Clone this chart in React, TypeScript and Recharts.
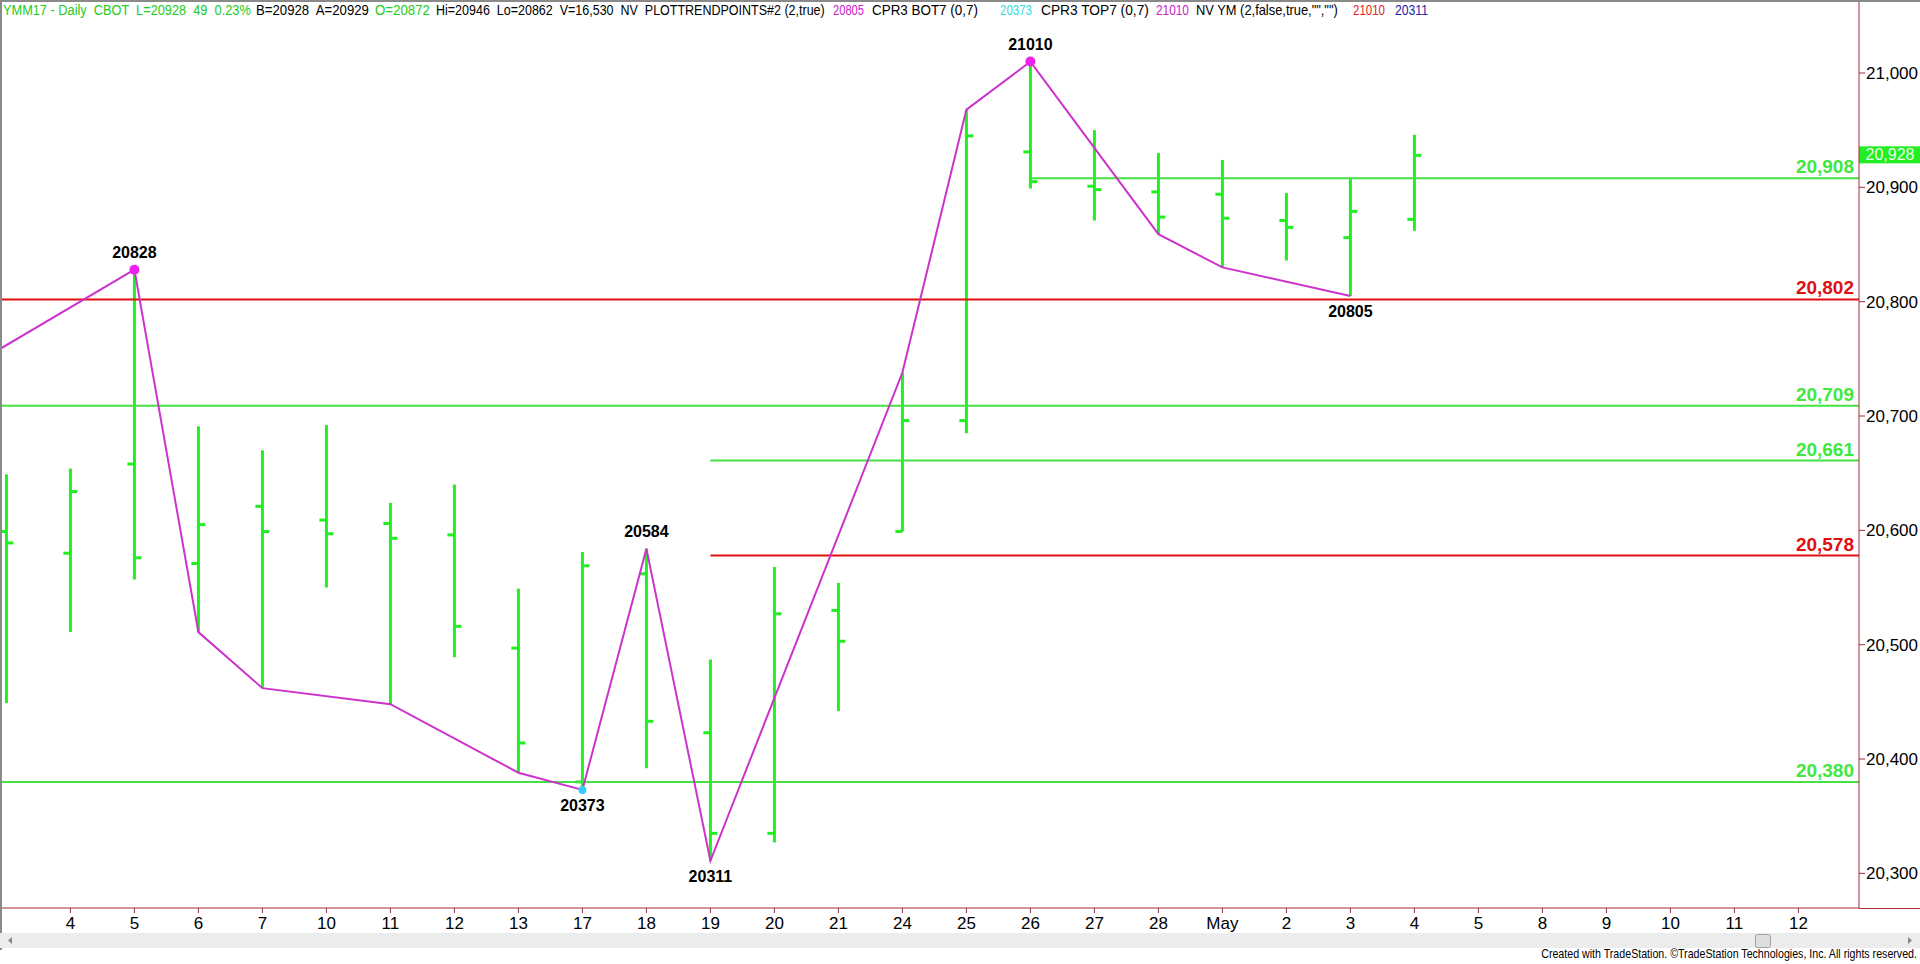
import React, { useLayoutEffect, useRef, useState } from "react";
import { ComposedChart, Bar, Line, XAxis, YAxis, ReferenceLine, ReferenceDot } from "recharts";

// session dates on the time axis (Apr 3 .. May 12)
const dateLabels = ["3", "4", "5", "6", "7", "10", "11", "12", "13", "17", "18", "19", "20", "21", "24", "25", "26", "27", "28", "May", "2", "3", "4", "5", "8", "9", "10", "11", "12"];

// daily OHLC, YM June 17
const opens = [20599, 20580, 20658, 20571, 20621, 20609, 20606, 20596, 20497, 20380, 20562, 20423, 20335, 20530, 20599, 20696, 20931, 20901, 20896, 20894, 20871, 20856, 20872];
const highs = [20649, 20654, 20828, 20691, 20670, 20692, 20624, 20640, 20549, 20581, 20584, 20487, 20568, 20554, 20738, 20968, 21010, 20950, 20930, 20924, 20895, 20908, 20946];
const lows = [20449, 20511, 20557, 20511, 20462, 20550, 20448, 20489, 20388, 20373, 20392, 20311, 20327, 20442, 20599, 20685, 20899, 20871, 20859, 20830, 20836, 20805, 20862];
const closes = [20589, 20634, 20576, 20605, 20599, 20597, 20593, 20516, 20414, 20569, 20433, 20335, 20527, 20503, 20696, 20945, 20905, 20898, 20874, 20873, 20865, 20879, 20928];

// trend points (bar index, price); first one is off the left edge
const swingIdx = [-1, 2, 3, 4, 6, 8, 9, 10, 11, 14, 15, 16, 18, 19, 21];
const swingVal = [20729, 20828, 20511, 20462, 20448, 20388, 20373, 20584, 20311, 20738, 20968, 21010, 20859, 20830, 20805];

// labelled pivots
const pivotIdx = [2, 16, 10, 9, 11, 21];
const pivotVal = [20828, 21010, 20584, 20373, 20311, 20805];
const pivotSide = ["above", "above", "above", "below", "below", "below"];
const pivotMark = ["top", "top", "none", "bottom", "none", "none"];

// horizontal levels
const levelValues = [20908, 20802, 20709, 20661, 20578, 20380];
const levelKind = ["support", "resistance", "support", "support", "resistance", "support"];
const levelFromBar: (number | null)[] = [16, null, null, 11, 11, null];

const priceTicks = [20300, 20400, 20500, 20600, 20700, 20800, 20900, 21000];
const lastPrice = 20928;

const headerParts: [string, string][] = [
  ["YMM17 - Daily  CBOT  L=20928  49  0.23%", "green"],
  ["B=20928  A=20929", "black"],
  ["O=20872", "green"],
  ["Hi=20946  Lo=20862  V=16,530  NV  PLOTTRENDPOINTS#2 (2,true)", "black"],
  ["20805", "magenta"],
  ["CPR3 BOT7 (0,7)", "black"],
  ["20373", "cyan"],
  ["CPR3 TOP7 (0,7)", "black"],
  ["21010", "magenta"],
  ['NV YM (2,false,true,"","")', "black"],
  ["21010", "red"],
  ["20311", "navy"],
];
// [left, width] of each header segment
const headerBox: [number, number][] = [
  [3, 248], [256, 113], [375, 55], [436, 389], [833, 31], [872, 106],
  [1000, 32], [1041, 108], [1156, 33], [1196, 142], [1353, 32], [1395, 33],
];

const COLORS: Record<string, string> = {
  green: "#22cc22",
  black: "#000000",
  magenta: "#cc22cc",
  cyan: "#33dddd",
  red: "#dd2222",
  navy: "#2222aa",
};

const BAR_GREEN = "#22ee22";
const LEVEL_COLOR: Record<string, string> = { support: "#44e044", resistance: "#e01010" };
const LABEL_COLOR: Record<string, string> = { support: "#3ee83e", resistance: "#dd1111" };
const AXIS_RED = "#a8283c";
const FONT = "'Liberation Sans', Arial, sans-serif";

const X_MIN = -0.069;
const X_MAX = 28.947;

const bars = opens.map((o, i) => ({ i, open: o, high: highs[i], low: lows[i], close: closes[i] }));
const swing = swingIdx.map((i, k) => ({ i, v: swingVal[k] }));

const fmt = (v: number) => v.toLocaleString("en-US");

// squeezes a text horizontally to a given width (the original uses a narrow font)
function FitText({ x, y, width, anchor = "start", fill = "#000", size = 14, children }: any) {
  const ref = useRef<SVGTextElement>(null);
  const [k, setK] = useState(1);
  useLayoutEffect(() => {
    if (ref.current) {
      const w = ref.current.getComputedTextLength();
      if (w > 0) setK(width / w);
    }
  }, [width]);
  return (
    <text
      ref={ref}
      x={x}
      y={y}
      textAnchor={anchor}
      fill={fill}
      fontSize={size}
      fontFamily={FONT}
      transform={`translate(${x} 0) scale(${k} 1) translate(${-x} 0)`}
      style={{ whiteSpace: "pre" }}
    >
      {children}
    </text>
  );
}

function OhlcBar(props: any) {
  const { x, y, width, height, payload } = props;
  if (x == null || y == null || !payload) return null;
  const top = Math.min(y, y + height);
  const bottom = Math.max(y, y + height);
  const cx = x + width / 2;
  const span = payload.high - payload.low || 1;
  const at = (v: number) => bottom - ((v - payload.low) / span) * (bottom - top);
  return (
    <g stroke={BAR_GREEN} strokeWidth={3}>
      <line x1={cx} x2={cx} y1={top} y2={bottom} />
      <line x1={cx - 7} x2={cx} y1={at(payload.open)} y2={at(payload.open)} />
      <line x1={cx} x2={cx + 7} y1={at(payload.close)} y2={at(payload.close)} />
    </g>
  );
}

const levelLabel = (text: string, color: string) => (p: any) => {
  const vb = p.viewBox;
  if (!vb) return null;
  return (
    <text x={vb.x + vb.width - 5} y={vb.y - 5} textAnchor="end" fill={color} fontSize={19} fontWeight="bold" fontFamily={FONT}>
      {text}
    </text>
  );
};

const pivotLabel = (text: string, side: string) => (p: any) => {
  const vb = p.viewBox;
  if (!vb) return null;
  const cx = vb.x + vb.width / 2;
  const cy = vb.y + vb.height / 2;
  return (
    <text x={cx} y={side === "above" ? cy - 12 : cy + 21} textAnchor="middle" fill="#000" fontSize={16} fontWeight="bold" fontFamily={FONT}>
      {text}
    </text>
  );
};

const priceMarker = (p: any) => {
  const vb = p.viewBox;
  if (!vb) return null;
  const left = vb.x + vb.width;
  return (
    <g>
      <rect x={left} y={vb.y - 9} width={61} height={17} fill="#22ee22" />
      <text x={left + 31} y={vb.y + 5} textAnchor="middle" fill="#eaffea" fontSize={16} fontFamily={FONT}>
        {fmt(lastPrice)}
      </text>
    </g>
  );
};

export default function App() {
  return (
    <div style={{ position: "absolute", left: 0, top: 0, width: 1920, height: 964, background: "#fff", overflow: "hidden" }}>
      <ComposedChart width={1920} height={964} data={bars} margin={{ top: 2, right: 0, bottom: 0, left: 2 }}>
        <XAxis
          type="number"
          dataKey="i"
          domain={[X_MIN, X_MAX]}
          allowDataOverflow
          ticks={dateLabels.map((_, k) => k).slice(1)}
          tickFormatter={(k: number) => dateLabels[k]}
          interval={0}
          height={56}
          stroke={AXIS_RED}
          tickSize={5}
          tickMargin={4}
          tick={{ fill: "#000", fontSize: 17, fontFamily: FONT }}
        />
        <YAxis
          orientation="right"
          width={61}
          domain={[20269.7, 21062.1]}
          allowDataOverflow
          ticks={priceTicks}
          tickFormatter={fmt}
          interval={0}
          stroke={AXIS_RED}
          tickSize={6}
          tickMargin={1}
          tick={{ fill: "#000", fontSize: 17, fontFamily: FONT, textAnchor: "start" }}
        />
        {levelValues.map((v, k) => {
          const color = LEVEL_COLOR[levelKind[k]];
          const label = levelLabel(fmt(v), LABEL_COLOR[levelKind[k]]);
          const from = levelFromBar[k];
          return from == null ? (
            <ReferenceLine key={v} y={v} stroke={color} strokeWidth={2} label={label} />
          ) : (
            <ReferenceLine key={v} segment={[{ x: from, y: v }, { x: X_MAX, y: v }]} stroke={color} strokeWidth={2} label={label} />
          );
        })}
        <Bar dataKey={(d: any) => [d.low, d.high]} barSize={14} shape={OhlcBar} isAnimationActive={false} />
        <Line data={swing} dataKey="v" stroke="#cc33cc" strokeWidth={2} dot={false} isAnimationActive={false} />
        {pivotIdx.map((i, k) => (
          <ReferenceDot
            key={`p${k}`}
            x={i}
            y={pivotVal[k]}
            r={pivotMark[k] === "none" ? 0 : pivotMark[k] === "top" ? 5 : 4}
            fill={pivotMark[k] === "top" ? "#ee22ee" : "#33ccff"}
            stroke="none"
            label={pivotLabel(String(pivotVal[k]), pivotSide[k])}
          />
        ))}
        <ReferenceLine y={lastPrice} stroke="none" label={priceMarker} />
      </ComposedChart>

      <svg width={1920} height={964} style={{ position: "absolute", left: 0, top: 0, pointerEvents: "none" }}>
        <rect x={0} y={0} width={1920} height={2} fill="#8a8a8a" />
        <rect x={0} y={0} width={2} height={950} fill="#8a8a8a" />
        <line x1={1859} x2={1920} y1={908.5} y2={908.5} stroke={AXIS_RED} />
        {headerParts.map(([t, c], k) => (
          <FitText key={k} x={headerBox[k][0]} y={15} width={headerBox[k][1]} fill={COLORS[c]} size={14}>
            {t}
          </FitText>
        ))}
        <rect x={0} y={933} width={1920} height={15} fill="#ececec" />
        <rect x={1755.5} y={934.5} width={15} height={13} fill="#dedede" stroke="#a0a0a0" rx={2} />
        <polygon points="12,937 12,944 8,940.5" fill="#888" />
        <polygon points="1908,937 1908,944 1912,940.5" fill="#888" />
        <FitText x={1917} y={958} width={376} anchor="end" size={13}>
          Created with TradeStation. ©TradeStation Technologies, Inc. All rights reserved.
        </FitText>
      </svg>
    </div>
  );
}
